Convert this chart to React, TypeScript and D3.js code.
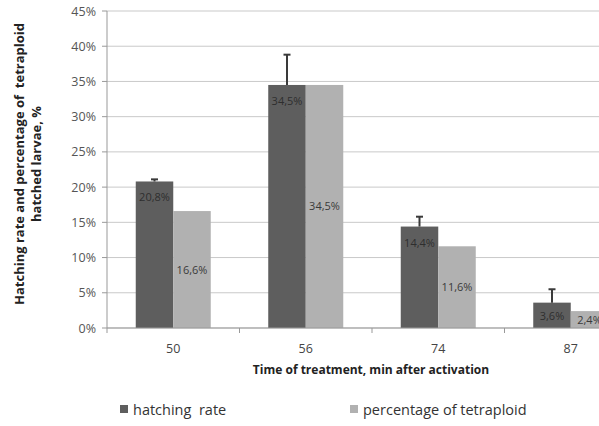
import React from "react";
import * as d3 from "d3";

const categories = ["50", "56", "74", "87"];
const hatchingRate = [20.8, 34.5, 14.4, 3.6];
const hatchingError = [0.3, 4.3, 1.4, 1.9];
const tetraploid = [16.6, 34.5, 11.6, 2.4];
const hatchingLabels = ["20,8%", "34,5%", "14,4%", "3,6%"];
const tetraLabels = ["16,6%", "34,5%", "11,6%", "2,4%"];
const yTicks = [0, 5, 10, 15, 20, 25, 30, 35, 40, 45];

const W = 599;
const H = 426;
const left = 107;
const right = 637;
const top = 11;
const bottom = 328;

const FONT = "'Open Sans', 'DejaVu Sans', sans-serif";
const DARK = "#5e5e5e";
const LIGHT = "#b1b1b1";

export default function App() {
  const x = d3.scaleBand<string>().domain(categories).range([left, right]).padding(0);
  const y = d3.scaleLinear().domain([0, 45]).range([bottom, top]);
  const barW = 37.5;

  return (
    <svg
      width={W}
      height={H}
      viewBox={`0 0 ${W} ${H}`}
      style={{ position: "absolute", left: 0, top: 0, background: "#fff" }}
      fontFamily={FONT}
    >
      <rect x={0} y={0} width={W} height={H} fill="#fff" />
      {/* gridlines */}
      {yTicks.map((t) => (
        <line key={"g" + t} x1={left} x2={W} y1={y(t)} y2={y(t)} stroke="#c9c9c9" strokeWidth={1} />
      ))}
      {/* y ticks and labels */}
      {yTicks.map((t) => (
        <g key={"t" + t}>
          <line x1={left - 5} x2={left} y1={y(t)} y2={y(t)} stroke="#999" />
          <text x={96} y={y(t) + 4.5} textAnchor="end" fontSize={12.5} fill="#555">
            {t + "%"}
          </text>
        </g>
      ))}
      {/* bars */}
      {categories.map((c, i) => {
        const cx = (x(c) as number) + x.bandwidth() / 2;
        const hTop = y(hatchingRate[i]);
        const tTop = y(tetraploid[i]);
        const eTop = y(hatchingRate[i] + hatchingError[i]);
        const hx = cx - barW;
        const hLabelY = Math.min(hTop + 20, (hTop + bottom) / 2 + 5);
        return (
          <g key={c}>
            <rect x={hx} y={hTop} width={barW} height={bottom - hTop} fill={DARK} />
            <rect x={cx} y={tTop} width={barW} height={bottom - tTop} fill={LIGHT} />
            <line x1={hx + barW / 2} x2={hx + barW / 2} y1={eTop} y2={hTop} stroke="#3a3a3a" strokeWidth={2} />
            <line x1={hx + barW / 2 - 3.5} x2={hx + barW / 2 + 3.5} y1={eTop} y2={eTop} stroke="#3a3a3a" strokeWidth={2} />
            <text x={hx + barW / 2} y={hLabelY} textAnchor="middle" fontSize={11} fill="#2e2e2e">
              {hatchingLabels[i]}
            </text>
            <text x={cx + barW / 2} y={(tTop + bottom) / 2 + 4} textAnchor="middle" fontSize={11} fill="#3a3a3a">
              {tetraLabels[i]}
            </text>
          </g>
        );
      })}
      {/* axes */}
      <line x1={left} x2={left} y1={top} y2={bottom} stroke="#999" />
      <line x1={left} x2={W} y1={bottom} y2={bottom} stroke="#999" />
      {categories.map((c, i) => (
        <line key={"xt" + i} x1={x(c) as number} x2={x(c) as number} y1={bottom} y2={bottom + 5} stroke="#999" />
      ))}
      {categories.map((c) => (
        <text
          key={"xl" + c}
          x={(x(c) as number) + x.bandwidth() / 2}
          y={353}
          textAnchor="middle"
          fontSize={12.5}
          fill="#444"
        >
          {c}
        </text>
      ))}
      <text x={371} y={374} textAnchor="middle" fontSize={12} fontWeight="bold" fill="#222">
        Time of treatment, min after activation
      </text>
      <g transform="translate(24,164) rotate(-90)">
        <text x={0} y={0} textAnchor="middle" fontSize={13} fontWeight="bold" fill="#222" style={{ whiteSpace: "pre" }}>
          {"Hatching rate and percentage of  tetraploid"}
        </text>
        <text x={0} y={17} textAnchor="middle" fontSize={13} fontWeight="bold" fill="#222">
          hatched larvae, %
        </text>
      </g>
      {/* legend */}
      <rect x={120} y={405} width={8} height={8} fill={DARK} />
      <text x={133} y={415} fontSize={14.5} fill="#333" style={{ whiteSpace: "pre" }}>
        {"hatching  rate"}
      </text>
      <rect x={350} y={405} width={8} height={8} fill={LIGHT} />
      <text x={363} y={415} fontSize={14.5} fill="#333">
        percentage of tetraploid
      </text>
    </svg>
  );
}
